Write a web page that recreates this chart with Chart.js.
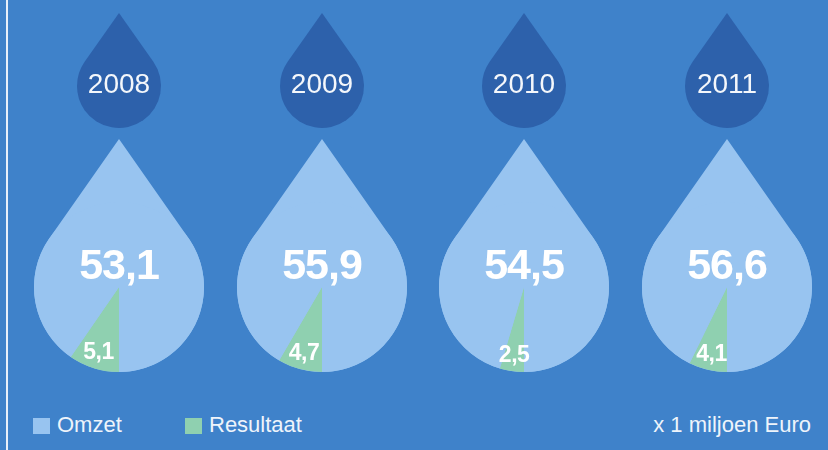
<!DOCTYPE html>
<html lang="nl">
<head>
<meta charset="UTF-8">
<title>Omzet en resultaat</title>
<style>
  html, body { margin: 0; padding: 0; }
  body { width: 828px; height: 450px; background: #3f82ca; position: relative; overflow: hidden;
         font-family: "Liberation Sans", Arial, Helvetica, sans-serif; }
  .rule { position: absolute; left: 6px; top: 0; width: 2px; height: 450px; background: #e8f0fa; }
  .drop { position: absolute; top: 0; width: 202px; height: 380px; }
  .legend { position: absolute; top: 412px; font-size: 22px; color: #eef4fb; line-height: 26px; }
  .legend span.box { display: inline-block; width: 17px; height: 16px; vertical-align: -2px; margin-right: 7px; }
</style>
</head>
<body>
<div class="rule"></div>
<div id="drops"></div>
<div class="legend" style="left:33px"><span class="box" style="background:#98c4f0"></span>Omzet</div>
<div class="legend" style="left:185px"><span class="box" style="background:#8fd0b0"></span>Resultaat</div>
<div class="legend" style="right:17px">x 1 miljoen Euro</div>

<script src="https://cdn.jsdelivr.net/npm/chart.js"></script>
<script>
  // gegevens (x 1 miljoen euro)
  const years = ['2008', '2009', '2010', '2011'];
  const omzet = [53.1, 55.9, 54.5, 56.6];
  const resultaat = [5.1, 4.7, 2.5, 4.1];
  const centersX = [119, 322, 524, 727];

  const darkBlue = '#2d61ab';
  const lightBlue = '#98c4f0';
  const green = '#8fd0b0';

  function fmt(v) {
    return v.toFixed(1).replace('.', ',');
  }

  // druppel: punt boven, cirkel onder
  function dropPath(ctx, cx, cy, r) {
    const d = r * 1.74;
    const b = Math.acos(r / d);
    ctx.beginPath();
    ctx.moveTo(cx, cy - d);
    ctx.arc(cx, cy, r, -Math.PI / 2 + b, 1.5 * Math.PI - b, false);
    ctx.closePath();
  }

  const dropPlugin = {
    id: 'drops',
    beforeDatasetsDraw(chart) {
      const ctx = chart.ctx;
      const arc = chart.getDatasetMeta(0).data[0];
      ctx.save();
      // kleine donkere druppel met jaartal
      ctx.fillStyle = darkBlue;
      dropPath(ctx, arc.x, 86, 42);
      ctx.fill();
      ctx.fillStyle = '#f4f7fb';
      ctx.font = '28px "Liberation Sans", Arial, sans-serif';
      ctx.textAlign = 'center';
      ctx.textBaseline = 'middle';
      ctx.fillText(chart.options.plugins.drops.year, arc.x, 85);
      // grote lichte druppel
      ctx.fillStyle = lightBlue;
      dropPath(ctx, arc.x, arc.y, arc.outerRadius);
      ctx.fill();
      ctx.restore();
    },
    afterDatasetsDraw(chart) {
      const ctx = chart.ctx;
      const ds = chart.data.datasets[0];
      const arc = chart.getDatasetMeta(0).data[0];
      ctx.save();
      ctx.fillStyle = '#ffffff';
      ctx.textAlign = 'center';
      ctx.textBaseline = 'middle';
      ctx.font = 'bold 43px "Liberation Sans", Arial, sans-serif';
      ctx.letterSpacing = '-1px';
      ctx.fillText(fmt(chart.options.plugins.drops.total), arc.x, arc.y - 20);
      const mid = (arc.startAngle + arc.endAngle) / 2;
      ctx.font = 'bold 23px "Liberation Sans", Arial, sans-serif';
      ctx.letterSpacing = '-0.5px';
      ctx.fillText(fmt(ds.data[0]), arc.x + Math.cos(mid) * 69, arc.y + Math.sin(mid) * 69);
      ctx.restore();
    }
  };

  const holder = document.getElementById('drops');
  for (let i = 0; i < years.length; i++) {
    const wrap = document.createElement('div');
    wrap.className = 'drop';
    wrap.style.left = (centersX[i] - 101) + 'px';
    const canvas = document.createElement('canvas');
    canvas.width = 202;
    canvas.height = 380;
    wrap.appendChild(canvas);
    holder.appendChild(wrap);

    new Chart(canvas.getContext('2d'), {
      type: 'pie',
      data: {
        labels: ['Resultaat', 'Omzet'],
        datasets: [{
          data: [resultaat[i], omzet[i] - resultaat[i]],
          backgroundColor: [green, lightBlue],
          borderWidth: 0
        }]
      },
      options: {
        responsive: false,
        animation: false,
        rotation: 180,
        layout: { padding: { left: 16, right: 16, top: 202, bottom: 8 } },
        plugins: {
          legend: { display: false },
          tooltip: { enabled: false },
          drops: { year: years[i], total: omzet[i] }
        }
      },
      plugins: [dropPlugin]
    });
  }
</script>
</body>
</html>
